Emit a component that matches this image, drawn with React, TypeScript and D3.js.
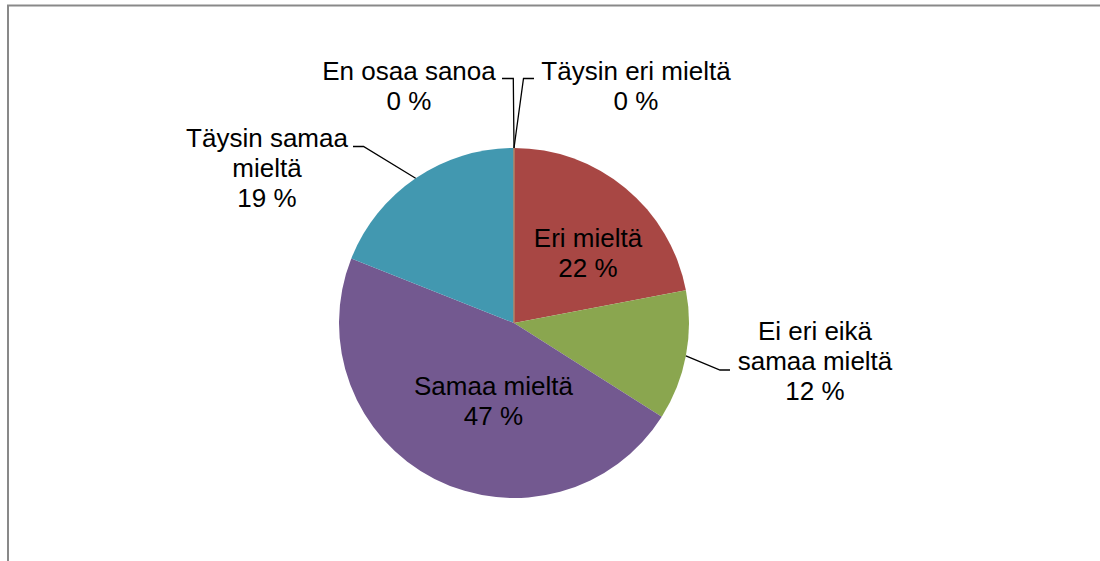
import React from "react";
import * as d3 from "d3";

const categories = [
  "Täysin eri mieltä",
  "Eri mieltä",
  "Ei eri eikä samaa mieltä",
  "Samaa mieltä",
  "Täysin samaa mieltä",
  "En osaa sanoa",
];
const values = [0, 22, 12, 47, 19, 0];
const labelLines = [
  ["Täysin eri mieltä"],
  ["Eri mieltä"],
  ["Ei eri eikä", "samaa mieltä"],
  ["Samaa mieltä"],
  ["Täysin samaa", "mieltä"],
  ["En osaa sanoa"],
];
const colors = ["#4A7EBB", "#A84744", "#8AA64F", "#735990", "#4298B0", "#E8883A"];

// layout for labels: text center x, first baseline y, optional leader (elbow, end)
const layout = [
  { x: 636, y: 79.5, elbow: [523.5, 78.5], end: [534, 78.5] },
  { x: 588, y: 246.5 },
  { x: 815, y: 339.5, elbow: [720, 370], end: [730, 370] },
  { x: 493.5, y: 395 },
  { x: 267, y: 146.5, elbow: [363.5, 146.5], end: [353, 146.5] },
  { x: 409, y: 79.5, elbow: [513.3, 78.5], end: [502, 78.5] },
];

const W = 1100;
const H = 561;
const cx = 514;
const cy = 323;
const R = 175;
const LH = 30.4;

export default function App() {
  const pie = d3.pie<number>().sort(null).startAngle(0).endAngle(2 * Math.PI)(values);
  const arc = d3.arc<d3.PieArcDatum<number>>().innerRadius(0).outerRadius(R);
  const total = d3.sum(values);
  const fmt = (v: number) => `${Math.round((v / total) * 100)} %`;

  return (
    <svg
      width={W}
      height={H}
      style={{ position: "absolute", left: 0, top: 0, background: "#fff" }}
      fontFamily="'Liberation Sans', Arial, sans-serif"
    >
      <rect x={8} y={5.5} width={W + 20} height={H + 20} fill="#fff" stroke="#898989" strokeWidth={2} />
      <g transform={`translate(${cx},${cy})`}>
        {pie.map((d, i) =>
          d.value > 0 ? (
            <path key={i} d={arc(d) || ""} fill={colors[i]} />
          ) : null
        )}
        {pie.map((d, i) =>
          d.value === 0 ? (
            <line
              key={"z" + i}
              x1={0}
              y1={0}
              x2={R * Math.sin(d.startAngle)}
              y2={-R * Math.cos(d.startAngle)}
              stroke={colors[i]}
              strokeWidth={1}
            />
          ) : null
        )}
      </g>
      {pie.map((d, i) => {
        const L = layout[i];
        if (!L.elbow) return null;
        const mid = (d.startAngle + d.endAngle) / 2;
        const ex = cx + R * Math.sin(mid);
        const ey = cy - R * Math.cos(mid);
        const pts = `${ex},${ey} ${L.elbow[0]},${L.elbow[1]} ${L.end![0]},${L.end![1]}`;
        return <polyline key={"l" + i} points={pts} fill="none" stroke="#000" strokeWidth={1.3} />;
      })}
      {pie.map((d, i) => {
        const L = layout[i];
        const lines = [...labelLines[i], fmt(d.value)];
        return (
          <text key={"t" + i} textAnchor="middle" fontSize={26} fill="#000">
            {lines.map((s, j) => (
              <tspan key={j} x={L.x} y={L.y + j * LH}>
                {s}
              </tspan>
            ))}
          </text>
        );
      })}
    </svg>
  );
}
